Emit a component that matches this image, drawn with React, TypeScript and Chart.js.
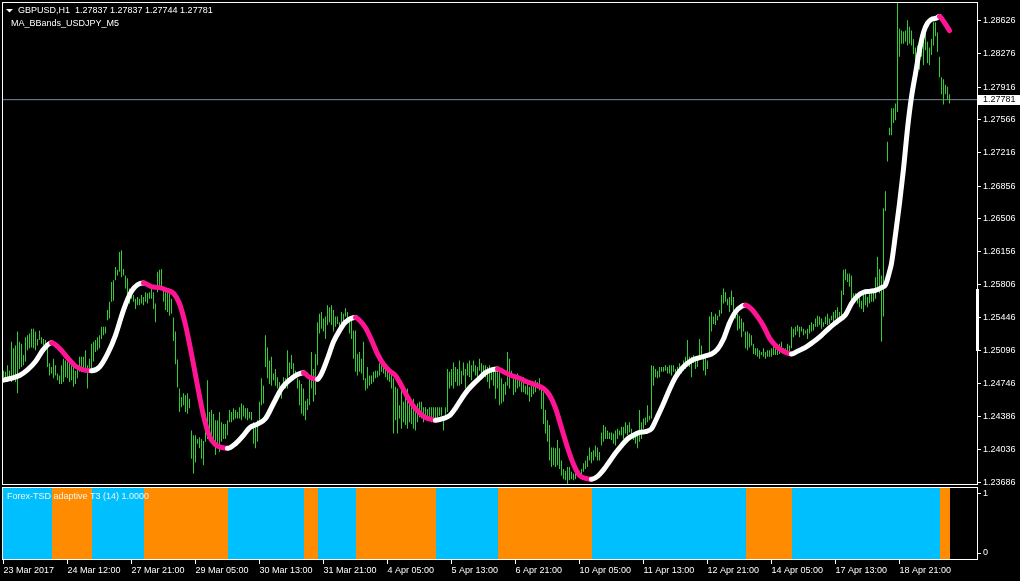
import React, { useEffect, useRef } from 'react';
import { Chart, registerables } from 'chart.js';

Chart.register(...registerables);

// ---------- text ----------
const SYMBOL = 'GBPUSD,H1';
const OHLC_LAST = [1.27837, 1.27837, 1.27744, 1.27781];
const LAST_CLOSE = 1.27781;
const INDICATOR_MAIN = 'MA_BBands_USDJPY_M5';
const INDICATOR_SUB = 'Forex-TSD adaptive T3 (14) 1.0000';

// ---------- H1 bars (high / low), one per hour ----------
const HIGH = [
  1.2488,1.2487,1.2494,1.2488,1.2519,1.2512,1.2515,1.2530,1.2519,1.2517,
  1.2505,1.2524,1.2526,1.2528,1.2533,1.2533,1.2530,1.2522,1.2531,1.2524,
  1.2522,1.2521,1.2515,1.2496,1.2492,1.2501,1.2494,1.2485,1.2483,1.2494,
  1.2501,1.2499,1.2498,1.2498,1.2494,1.2492,1.2488,1.2492,1.2503,1.2503,
  1.2503,1.2510,1.2494,1.2501,1.2517,1.2519,1.2521,1.2524,1.2526,1.2535,
  1.2535,1.2535,1.2553,1.2562,1.2583,1.2585,1.2599,1.2596,1.2615,1.2617,
  1.2597,1.2590,1.2587,1.2576,1.2576,1.2569,1.2565,1.2567,1.2565,1.2569,
  1.2567,1.2572,1.2571,1.2572,1.2576,1.2572,1.2560,1.2594,1.2596,1.2597,
  1.2576,1.2572,1.2576,1.2571,1.2565,1.2545,1.2530,1.2500,1.2469,1.2460,
  1.2464,1.2462,1.2464,1.2458,1.2424,1.2419,1.2419,1.2415,1.2417,1.2415,
  1.2413,1.2442,1.2478,1.2444,1.2446,1.2442,1.2435,1.2435,1.2444,1.2433,
  1.2431,1.2431,1.2435,1.2446,1.2444,1.2448,1.2446,1.2444,1.2449,1.2453,
  1.2451,1.2448,1.2448,1.2444,1.2444,1.2433,1.2431,1.2435,1.2455,1.2480,
  1.2472,1.2526,1.2513,1.2499,1.2503,1.2485,1.2490,1.2481,1.2476,1.2472,
  1.2481,1.2480,1.2510,1.2497,1.2505,1.2496,1.2488,1.2480,1.2478,1.2474,
  1.2469,1.2456,1.2458,1.2480,1.2508,1.2490,1.2506,1.2540,1.2549,1.2551,
  1.2544,1.2546,1.2558,1.2556,1.2558,1.2553,1.2546,1.2546,1.2540,1.2551,
  1.2549,1.2555,1.2551,1.2544,1.2542,1.2531,1.2531,1.2506,1.2508,1.2501,
  1.2519,1.2480,1.2492,1.2483,1.2483,1.2487,1.2488,1.2488,1.2496,1.2496,
  1.2494,1.2490,1.2488,1.2487,1.2485,1.2480,1.2471,1.2469,1.2451,1.2469,
  1.2455,1.2469,1.2469,1.2455,1.2451,1.2458,1.2451,1.2453,1.2455,1.2455,
  1.2449,1.2449,1.2447,1.2449,1.2449,1.2449,1.2449,1.2449,1.2449,1.2449,
  1.2440,1.2449,1.2490,1.2487,1.2490,1.2497,1.2492,1.2490,1.2499,1.2488,
  1.2497,1.2490,1.2496,1.2499,1.2494,1.2499,1.2494,1.2492,1.2501,1.2496,
  1.2494,1.2494,1.2492,1.2494,1.2488,1.2490,1.2487,1.2492,1.2490,1.2480,
  1.2474,1.2476,1.2508,1.2501,1.2488,1.2483,1.2481,1.2485,1.2480,1.2476,
  1.2481,1.2472,1.2474,1.2471,1.2476,1.2472,1.2478,1.2476,1.2480,1.2469,
  1.2465,1.2446,1.2435,1.2430,1.2406,1.2406,1.2405,1.2414,1.2405,1.2392,
  1.2383,1.2381,1.2385,1.2385,1.2380,1.2378,1.2380,1.2383,1.2381,1.2383,
  1.2389,1.2392,1.2397,1.2406,1.2401,1.2403,1.2408,1.2406,1.2401,1.2422,
  1.2430,1.2428,1.2424,1.2422,1.2422,1.2421,1.2424,1.2426,1.2424,1.2428,
  1.2428,1.2433,1.2430,1.2433,1.2426,1.2421,1.2419,1.2421,1.2446,1.2433,
  1.2437,1.2438,1.2451,1.2440,1.2494,1.2493,1.2490,1.2488,1.2492,1.2492,
  1.2492,1.2494,1.2492,1.2494,1.2494,1.2494,1.2490,1.2492,1.2496,1.2492,
  1.2499,1.2503,1.2521,1.2503,1.2503,1.2505,1.2501,1.2503,1.2522,1.2515,
  1.2501,1.2503,1.2499,1.2546,1.2551,1.2546,1.2549,1.2547,1.2553,1.2569,
  1.2576,1.2572,1.2565,1.2567,1.2574,1.2567,1.2554,1.2549,1.2547,1.2544,
  1.2540,1.2530,1.2530,1.2528,1.2526,1.2517,1.2512,1.2512,1.2510,1.2508,
  1.2512,1.2508,1.2510,1.2510,1.2512,1.2514,1.2512,1.2515,1.2517,1.2519,
  1.2512,1.2512,1.2517,1.2515,1.2535,1.2533,1.2535,1.2537,1.2535,1.2535,
  1.2533,1.2531,1.2533,1.2537,1.2540,1.2538,1.2544,1.2547,1.2546,1.2544,
  1.2540,1.2546,1.2549,1.2544,1.2547,1.2551,1.2553,1.2556,1.2551,1.2574,
  1.2596,1.2597,1.2592,1.2592,1.2590,1.2571,1.2571,1.2569,1.2569,1.2563,
  1.2571,1.2572,1.2567,1.2571,1.2572,1.2574,1.2588,1.2610,1.2597,1.2590,
  1.2662,1.2680,1.2733,1.2748,1.2769,1.2769,1.2774,1.2883,1.2854,1.2852,
  1.2851,1.2852,1.2863,1.2856,1.2852,1.2843,1.2834,1.2836,1.2842,1.2847,
  1.2842,1.2860,1.2840,1.2834,1.2843,1.2861,1.2861,1.2850,1.2824,1.2802,
  1.2800,1.2794,1.2792,1.2784,
];
const LOW = [
  1.2481,1.2481,1.2476,1.2480,1.2476,1.2478,1.2476,1.2464,1.2490,1.2492,
  1.2494,1.2498,1.2510,1.2512,1.2513,1.2512,1.2510,1.2515,1.2521,1.2517,
  1.2515,1.2512,1.2492,1.2483,1.2485,1.2480,1.2483,1.2478,1.2474,1.2474,
  1.2476,1.2481,1.2480,1.2476,1.2478,1.2471,1.2474,1.2480,1.2487,1.2487,
  1.2490,1.2489,1.2469,1.2489,1.2490,1.2498,1.2508,1.2510,1.2512,1.2522,
  1.2526,1.2528,1.2542,1.2544,1.2562,1.2563,1.2585,1.2590,1.2594,1.2588,
  1.2590,1.2576,1.2565,1.2560,1.2565,1.2562,1.2554,1.2558,1.2558,1.2560,
  1.2558,1.2562,1.2560,1.2565,1.2565,1.2554,1.2540,1.2572,1.2578,1.2578,
  1.2562,1.2553,1.2551,1.2547,1.2549,1.2520,1.2495,1.2470,1.2444,1.2449,
  1.2451,1.2444,1.2442,1.2448,1.2394,1.2378,1.2390,1.2410,1.2405,1.2394,
  1.2387,1.2412,1.2415,1.2423,1.2415,1.2412,1.2398,1.2407,1.2401,1.2412,
  1.2415,1.2415,1.2419,1.2433,1.2433,1.2435,1.2437,1.2437,1.2437,1.2435,
  1.2439,1.2437,1.2435,1.2437,1.2435,1.2410,1.2405,1.2412,1.2435,1.2451,
  1.2453,1.2492,1.2480,1.2474,1.2472,1.2478,1.2472,1.2469,1.2462,1.2458,
  1.2469,1.2469,1.2469,1.2483,1.2490,1.2478,1.2483,1.2469,1.2451,1.2442,
  1.2440,1.2435,1.2446,1.2451,1.2469,1.2455,1.2462,1.2494,1.2528,1.2533,
  1.2530,1.2522,1.2537,1.2540,1.2537,1.2530,1.2535,1.2538,1.2533,1.2535,
  1.2537,1.2546,1.2540,1.2528,1.2522,1.2501,1.2487,1.2483,1.2487,1.2485,
  1.2478,1.2467,1.2469,1.2472,1.2474,1.2476,1.2480,1.2481,1.2483,1.2487,
  1.2485,1.2481,1.2478,1.2476,1.2469,1.2421,1.2435,1.2421,1.2437,1.2426,
  1.2433,1.2430,1.2426,1.2433,1.2431,1.2426,1.2424,1.2433,1.2438,1.2437,
  1.2433,1.2437,1.2435,1.2435,1.2433,1.2433,1.2435,1.2438,1.2440,1.2440,
  1.2424,1.2437,1.2444,1.2469,1.2472,1.2469,1.2476,1.2472,1.2472,1.2474,
  1.2483,1.2469,1.2483,1.2481,1.2478,1.2487,1.2483,1.2478,1.2488,1.2483,
  1.2485,1.2481,1.2476,1.2469,1.2478,1.2472,1.2458,1.2469,1.2451,1.2453,
  1.2455,1.2462,1.2472,1.2469,1.2480,1.2462,1.2465,1.2469,1.2471,1.2465,
  1.2465,1.2463,1.2462,1.2455,1.2460,1.2463,1.2465,1.2469,1.2467,1.2447,
  1.2431,1.2421,1.2412,1.2392,1.2385,1.2387,1.2385,1.2387,1.2383,1.2376,
  1.2372,1.2371,1.2367,1.2371,1.2372,1.2371,1.2372,1.2376,1.2376,1.2376,
  1.2380,1.2383,1.2385,1.2392,1.2389,1.2392,1.2396,1.2392,1.2392,1.2408,
  1.2412,1.2415,1.2415,1.2415,1.2414,1.2410,1.2408,1.2415,1.2419,1.2419,
  1.2415,1.2421,1.2419,1.2422,1.2415,1.2414,1.2410,1.2405,1.2412,1.2415,
  1.2426,1.2430,1.2433,1.2435,1.2437,1.2472,1.2481,1.2480,1.2481,1.2487,
  1.2487,1.2488,1.2485,1.2485,1.2483,1.2487,1.2483,1.2483,1.2487,1.2485,
  1.2488,1.2490,1.2496,1.2492,1.2481,1.2496,1.2490,1.2492,1.2501,1.2505,
  1.2488,1.2483,1.2490,1.2505,1.2530,1.2538,1.2537,1.2542,1.2546,1.2549,
  1.2560,1.2562,1.2558,1.2551,1.2558,1.2547,1.2544,1.2531,1.2533,1.2524,
  1.2530,1.2512,1.2510,1.2513,1.2515,1.2506,1.2505,1.2503,1.2501,1.2505,
  1.2503,1.2501,1.2503,1.2503,1.2503,1.2505,1.2505,1.2505,1.2506,1.2508,
  1.2506,1.2506,1.2508,1.2508,1.2512,1.2524,1.2526,1.2530,1.2524,1.2530,
  1.2526,1.2528,1.2522,1.2528,1.2530,1.2531,1.2535,1.2535,1.2537,1.2533,
  1.2535,1.2538,1.2537,1.2538,1.2542,1.2540,1.2544,1.2544,1.2544,1.2546,
  1.2569,1.2585,1.2583,1.2578,1.2563,1.2562,1.2562,1.2560,1.2556,1.2554,
  1.2551,1.2558,1.2556,1.2560,1.2562,1.2562,1.2565,1.2578,1.2571,1.2519,
  1.2546,1.2659,1.2712,1.2740,1.2740,1.2753,1.2756,1.2765,1.2824,1.2838,
  1.2838,1.2840,1.2836,1.2838,1.2836,1.2827,1.2818,1.2815,1.2810,1.2824,
  1.2815,1.2831,1.2817,1.2815,1.2826,1.2836,1.2846,1.2829,1.2802,1.2784,
  1.2773,1.2784,1.2778,1.2774,
];

// ---------- T3 moving average (bar index, value) ----------
const T3_BAR = [
  0,4,8,12,16,20,24,28,32,36,40,44,48,52,56,60,64,67,70,74,
  78,82,85,88,91,94,97,100,103,106,109,112,116,120,123,127,131,135,139,143,
  147,150,153,157,159,162,165,168,171,176,178,181,184,187,190,193,196,199,202,205,
  208,211,214,216,220,223,226,229,232,235,238,241,244,247,250,254,258,262,266,270,
  273,276,279,282,285,288,291,294,297,300,303,306,309,312,315,318,321,324,327,330,
  333,336,339,342,345,348,351,354,357,360,363,366,369,371,374,377,380,383,386,389,
  392,394,397,401,405,409,413,417,421,424,427,430,433,436,439,441,443,444,446,448,
  450,452,454,456,458,460,462,464,466,468,470,473,
];
const T3_VALUE = [
  1.2478,1.2480,1.2483,1.2489,1.2498,1.2511,1.2518,1.2512,1.2502,1.2493,
  1.2489,1.2488,1.2492,1.2506,1.2526,1.2553,1.2573,1.2580,1.2582,1.2578,
  1.2577,1.2574,1.2571,1.2560,1.2537,1.2506,1.2472,1.2440,1.2418,1.2409,
  1.2406,1.2405,1.2410,1.2419,1.2427,1.2431,1.2437,1.2453,1.2469,1.2478,
  1.2484,1.2486,1.2481,1.2479,1.2485,1.2501,1.2519,1.2531,1.2540,1.2545,
  1.2542,1.2534,1.2521,1.2506,1.2495,1.2488,1.2483,1.2472,1.2460,1.2450,
  1.2443,1.2438,1.2436,1.2435,1.2437,1.2440,1.2448,1.2458,1.2467,1.2474,
  1.2480,1.2486,1.2489,1.2490,1.2487,1.2483,1.2480,1.2476,1.2473,1.2469,
  1.2462,1.2448,1.2427,1.2406,1.2388,1.2376,1.2373,1.2372,1.2375,1.2382,
  1.2391,1.2400,1.2408,1.2415,1.2419,1.2422,1.2423,1.2426,1.2439,1.2453,
  1.2468,1.2481,1.2490,1.2496,1.2500,1.2502,1.2504,1.2506,1.2511,1.2522,
  1.2539,1.2551,1.2557,1.2558,1.2554,1.2546,1.2536,1.2523,1.2515,1.2510,
  1.2507,1.2506,1.2509,1.2513,1.2519,1.2526,1.2534,1.2541,1.2548,1.2560,
  1.2568,1.2572,1.2573,1.2574,1.2577,1.2580,1.2594,1.2603,1.2634,1.2667,
  1.2704,1.2747,1.2781,1.2806,1.2831,1.2850,1.2860,1.2864,1.2865,1.2867,
  1.2862,1.2852,
];

// ---------- T3 trend state (bar where each run starts, 1 = up, -1 = down) ----------
const TREND_START = [0, 24, 44, 70, 112, 150, 157, 176, 216, 247, 294, 371, 394, 468];
const TREND_DIR = [1, -1, 1, -1, 1, -1, 1, -1, 1, -1, 1, -1, 1, -1];

// ---------- axes ----------
const PRICE_TICKS = [1.28626, 1.28276, 1.27916, 1.27566, 1.27216, 1.26856, 1.26506, 1.26156,
  1.25806, 1.25446, 1.25096, 1.24746, 1.24386, 1.24036, 1.23686];
const TIME_TICK_BARS = [0, 32, 64, 96, 128, 160, 192, 224, 256, 288, 320, 352, 384, 416, 448];
const TIME_LABELS = ['23 Mar 2017', '24 Mar 12:00', '27 Mar 21:00', '29 Mar 05:00', '30 Mar 13:00',
  '31 Mar 21:00', '4 Apr 05:00', '5 Apr 13:00', '6 Apr 21:00', '10 Apr 05:00', '11 Apr 13:00',
  '12 Apr 21:00', '14 Apr 05:00', '17 Apr 13:00', '18 Apr 21:00'];
const SUB_TICKS = [0, 1];
const RANGE_MARK = [1.2509, 1.2576];

const X_MIN = -0.75;
const X_MAX = 487.25;
const Y_MIN = 1.23658;
const Y_MAX = 1.28826;
const SUB_MIN = -0.1186;
const SUB_MAX = 1.1186;

const FONT = '"Liberation Sans", Arial, sans-serif';
const BAR_COLOR = '#32CD32';
const UP_COLOR = '#FFFFFF';
const DOWN_COLOR = '#FF1493';
const CYAN = '#00BFFF';
const ORANGE = '#FF8C00';
const BID_COLOR = '#778899';

const trendAt = (bar: number) => {
  let d = TREND_DIR[0];
  for (let j = 0; j < TREND_START.length; j++) if (TREND_START[j] <= bar) d = TREND_DIR[j];
  return d;
};

const tickFont = { family: FONT, size: 9 };

const mainDecor = {
  id: 'mainDecor',
  afterDraw(chart: any) {
    const { ctx, chartArea: a, scales } = chart;
    const ys = scales.y;
    ctx.save();
    ctx.fillStyle = '#fff';
    const r0 = Math.round(ys.getPixelForValue(RANGE_MARK[1]));
    const r1 = Math.round(ys.getPixelForValue(RANGE_MARK[0]));
    ctx.fillRect(a.right - 2, r0, 3, r1 - r0);
    ctx.strokeStyle = '#fff';
    ctx.lineWidth = 1;
    ctx.strokeRect(a.left + 0.5, a.top + 0.5, a.right - a.left - 1, a.bottom - a.top - 1);
    const py = Math.round(ys.getPixelForValue(LAST_CLOSE));
    ctx.fillRect(a.right, py - 5, chart.width - a.right, 10);
    ctx.font = `9px ${FONT}`;
    ctx.textBaseline = 'middle';
    ctx.textAlign = 'left';
    ctx.fillStyle = '#000';
    ctx.fillText(LAST_CLOSE.toFixed(5), a.right + 5, py);
    ctx.fillStyle = '#fff';
    ctx.beginPath();
    ctx.moveTo(6, 9);
    ctx.lineTo(13, 9);
    ctx.lineTo(9.5, 12.5);
    ctx.closePath();
    ctx.fill();
    ctx.fillText(`${SYMBOL}  ${OHLC_LAST.map((v) => v.toFixed(5)).join(' ')}`, 18, 11);
    ctx.fillText(INDICATOR_MAIN, 11, 24);
    ctx.restore();
  },
};

const subDecor = {
  id: 'subDecor',
  afterDraw(chart: any) {
    const { ctx, chartArea: a } = chart;
    ctx.save();
    ctx.strokeStyle = '#fff';
    ctx.lineWidth = 1;
    ctx.strokeRect(a.left + 0.5, a.top + 0.5, a.right - a.left - 1, a.bottom - a.top - 1);
    ctx.font = `9px ${FONT}`;
    ctx.textBaseline = 'middle';
    ctx.textAlign = 'left';
    ctx.fillStyle = '#f4f4f4';
    ctx.fillText(INDICATOR_SUB, a.left + 5, a.top + 9.5);
    ctx.restore();
  },
};

function mainConfig(): any {
  const bars = HIGH.map((h, i) => ({ x: i, y: [LOW[i], h] }));
  const t3 = T3_BAR.map((b, i) => ({ x: b, y: T3_VALUE[i] }));
  return {
    type: 'bar',
    data: {
      datasets: [
        {
          type: 'line',
          data: t3,
          borderWidth: 5,
          borderColor: UP_COLOR,
          segment: {
            borderColor: (c: any) => (trendAt(T3_BAR[c.p0DataIndex]) > 0 ? UP_COLOR : DOWN_COLOR),
          },
          cubicInterpolationMode: 'monotone',
          borderCapStyle: 'round',
          borderJoinStyle: 'round',
          pointRadius: 0,
          fill: false,
          order: 0,
        },
        {
          type: 'bar',
          data: bars,
          backgroundColor: BAR_COLOR,
          borderWidth: 0,
          barThickness: 1,
          inflateAmount: 0,
          order: 1,
        },
        {
          type: 'line',
          data: [{ x: X_MIN, y: LAST_CLOSE }, { x: X_MAX, y: LAST_CLOSE }],
          borderColor: BID_COLOR,
          borderWidth: 1,
          pointRadius: 0,
          fill: false,
          order: 2,
        },
      ],
    },
    options: {
      responsive: false,
      maintainAspectRatio: false,
      devicePixelRatio: 1,
      animation: false,
      events: [],
      layout: { padding: { left: 2, top: 2, right: 0, bottom: 1 } },
      plugins: { legend: { display: false }, tooltip: { enabled: false }, title: { display: false } },
      scales: {
        x: {
          type: 'linear', min: X_MIN, max: X_MAX, bounds: 'data', offset: false,
          display: false, grid: { offset: false },
        },
        y: {
          type: 'linear', position: 'right', min: Y_MIN, max: Y_MAX, bounds: 'data',
          afterBuildTicks: (s: any) => { s.ticks = PRICE_TICKS.map((v) => ({ value: v })); },
          afterFit: (s: any) => { s.width = 42; s.paddingTop = 0; s.paddingBottom = 0; },
          ticks: {
            color: '#fff', font: tickFont, padding: 2, autoSkip: false,
            callback: (v: any) => Number(v).toFixed(5),
          },
          grid: { drawOnChartArea: false, drawTicks: true, tickLength: 3, color: '#fff', lineWidth: 1 },
          border: { display: false },
        },
      },
    },
    plugins: [mainDecor],
  };
}

function subConfig(): any {
  const last = HIGH.length - 1;
  const datasets = TREND_START.map((s, j) => {
    const x0 = j === 0 ? X_MIN : s + 0.25;
    const x1 = j < TREND_START.length - 1 ? TREND_START[j + 1] + 0.25 : last + 0.25;
    return {
      type: 'line',
      data: [{ x: x0, y: SUB_MAX }, { x: x1, y: SUB_MAX }],
      backgroundColor: TREND_DIR[j] > 0 ? CYAN : ORANGE,
      borderWidth: 0,
      borderColor: 'rgba(0,0,0,0)',
      pointRadius: 0,
      fill: 'start',
    };
  });
  return {
    type: 'line',
    data: { datasets },
    options: {
      responsive: false,
      maintainAspectRatio: false,
      devicePixelRatio: 1,
      animation: false,
      events: [],
      layout: { padding: { left: 2, top: 1, right: 0, bottom: 0 } },
      plugins: { legend: { display: false }, tooltip: { enabled: false }, title: { display: false } },
      scales: {
        x: {
          type: 'linear', position: 'bottom', min: X_MIN, max: X_MAX, bounds: 'data', offset: false,
          afterBuildTicks: (s: any) => { s.ticks = TIME_TICK_BARS.map((v) => ({ value: v })); },
          afterFit: (s: any) => { s.height = 21; s.paddingLeft = 0; s.paddingRight = 0; },
          ticks: {
            color: '#fff', font: tickFont, align: 'start', maxRotation: 0, minRotation: 0,
            autoSkip: false, padding: 1,
            callback: (v: any) => TIME_LABELS[TIME_TICK_BARS.indexOf(Number(v))] ?? '',
          },
          grid: { drawOnChartArea: false, drawTicks: true, tickLength: 4, color: '#fff', offset: false },
          border: { display: false },
        },
        y: {
          type: 'linear', position: 'right', min: SUB_MIN, max: SUB_MAX, bounds: 'data',
          afterBuildTicks: (s: any) => { s.ticks = SUB_TICKS.map((v) => ({ value: v })); },
          afterFit: (s: any) => { s.width = 42; s.paddingTop = 0; s.paddingBottom = 0; },
          ticks: { color: '#fff', font: tickFont, padding: 2, autoSkip: false, callback: (v: any) => String(v) },
          grid: { drawOnChartArea: false, drawTicks: true, tickLength: 3, color: '#fff' },
          border: { display: false },
        },
      },
    },
    plugins: [subDecor],
  };
}

export default function App() {
  const mainRef = useRef<HTMLCanvasElement>(null);
  const subRef = useRef<HTMLCanvasElement>(null);

  useEffect(() => {
    const main = new Chart(mainRef.current as HTMLCanvasElement, mainConfig());
    const sub = new Chart(subRef.current as HTMLCanvasElement, subConfig());
    return () => {
      main.destroy();
      sub.destroy();
    };
  }, []);

  return (
    <div style={{ position: 'absolute', left: 0, top: 0, width: 1020, height: 581, background: '#000', overflow: 'hidden' }}>
      <canvas ref={mainRef} width={1020} height={486}
        style={{ position: 'absolute', left: 0, top: 0, width: 1020, height: 486 }} />
      <canvas ref={subRef} width={1020} height={95}
        style={{ position: 'absolute', left: 0, top: 486, width: 1020, height: 95 }} />
    </div>
  );
}
